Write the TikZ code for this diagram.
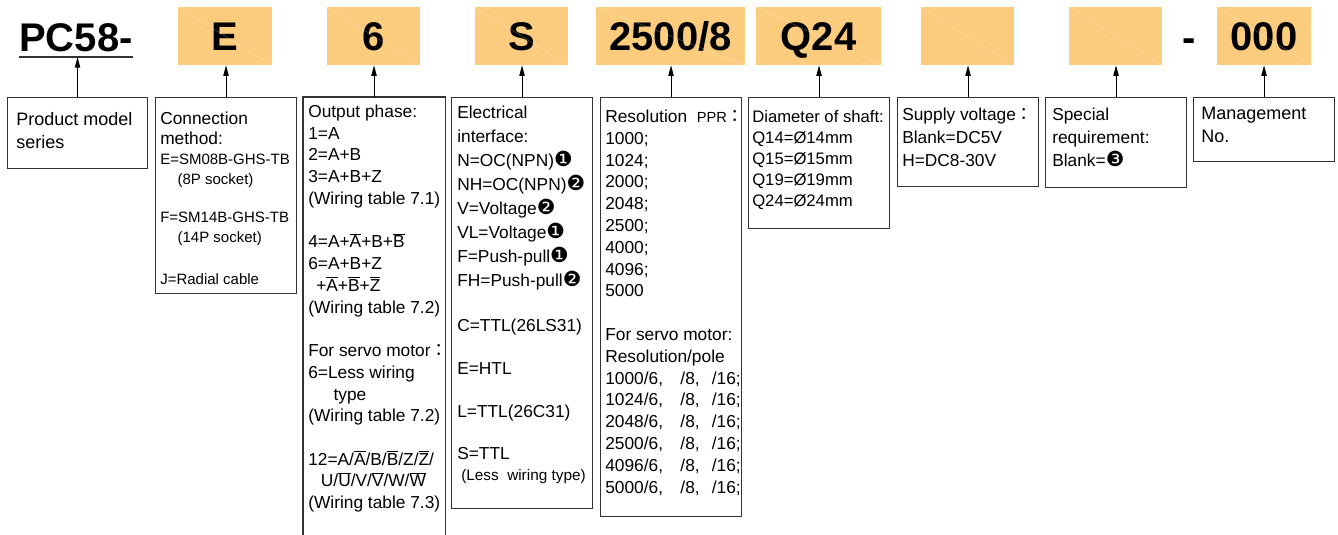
\documentclass[tikz,border=0pt]{standalone}
\usepackage{fontspec}
\setmainfont{Liberation Sans}
\newfontfamily\dingfont[Scale=1.2]{DejaVu Sans}
\newfontfamily\cjkfont{Noto Sans CJK TC}
\usepackage{xcolor}
\usetikzlibrary{arrows.meta,calc}
\definecolor{codefill}{HTML}{FBCC7E}
\newcommand{\ovl}[1]{\ensuremath{\overline{\mbox{#1}}}}
\newcommand{\fcolon}{{\cjkfont ：}}
\newcommand{\smtxt}{\fontsize{11.25}{13}\selectfont}
\newcommand{\cOne}{{\dingfont ❶}}
\newcommand{\cTwo}{{\dingfont ❷}}
\newcommand{\cThree}{{\dingfont ❸}}

\begin{document}
\begin{tikzpicture}[x=0.75pt,y=-0.75pt,
  head/.style={fill=codefill,inner sep=0pt,minimum height=43.5pt,
    font=\fontsize{30}{36}\selectfont\bfseries,text height=21.5pt,text depth=0pt},
  big/.style={inner sep=0pt,anchor=base,font=\fontsize{30}{36}\selectfont\bfseries},
  desc/.style={draw=black!80,line width=0.8pt,anchor=north west,inner sep=0pt,minimum width=105.75pt},
  txt/.style={anchor=north west,inner sep=0pt,align=left,font=\fontsize{13}{16.3}\selectfont,
    execute at begin node=\rule{0pt}{10pt}},
  ar/.style={-{Triangle[length=8pt,width=4pt]},line width=0.8pt},
  faint/.style={draw=white,opacity=0.35,line width=0.3pt}]
\useasboundingbox (0,0) rectangle (1338,535);

% code line
\node[big] (pc) at (76,52) {PC58-};
\node[head,minimum width=70.5pt] (hConn) at (225,36) {E};
\node[head,minimum width=69.75pt] (hPhase) at (373.5,36) {6};
\node[head,minimum width=69.75pt] (hElec) at (521.5,36) {S};
\node[head,minimum width=111.75pt] (hRes) at (670.5,36) {2500/8};
\node[head,minimum width=93.75pt] (hShaft) at (818.5,36) {Q24};
\node[head,minimum width=69.75pt] (hVolt) at (967.5,36) {};
\node[head,minimum width=69.75pt] (hSpec) at (1115.5,36) {};
\node[big] (dash) at (1189,52) {-};
\node[head,minimum width=70.5pt] (hMgmt) at (1264,36) {000};
\foreach \h in {hConn,hPhase,hElec,hRes,hShaft,hVolt,hSpec,hMgmt}
  \draw[faint] (\h.north west) -- (\h.south east);
\coordinate (ul) at ($(pc.base)+(0,5)$);
\draw[black!80,line width=0.8pt] (pc.base west |- ul) -- (pc.base east |- ul);

% description boxes
\node[desc,minimum width=105pt,minimum height=53.25pt] (prod) at (7,97) {};
\node[desc,minimum height=147pt] (conn) at (155,97) {};
\node[desc,draw=none,minimum height=330pt] (phase) at (303,97) {};
\draw[black!80,line width=0.8pt] (phase.south west) |- (phase.north east) -- (phase.south east);
\node[desc,minimum height=308.25pt] (elec) at (451,97) {};
\node[desc,minimum height=314.25pt] (res) at (600,97) {};
\node[desc,minimum height=98.25pt] (shaft) at (748,97) {};
\node[desc,minimum height=66.75pt] (volt) at (897,97) {};
\node[desc,minimum height=67.5pt] (spec) at (1045,97) {};
\node[desc,minimum height=48pt] (mgmt) at (1193,97) {};

\node[txt,font=\fontsize{13.5}{17.25}\selectfont] (prodT) at (16,112) {Product model\\series};
\node[txt,font=\fontsize{13}{15}\selectfont] (connT) at (160,111.7) {Connection\\method:\\
  {\smtxt E=SM08B-GHS-TB}\\
  \hspace*{13pt}{\smtxt (8P socket)}\\[13.5pt]
  {\smtxt F=SM14B-GHS-TB}\\
  \hspace*{13pt}{\smtxt (14P socket)}\\[16.5pt]
  {\smtxt J=Radial cable}};
\node[txt] (phaseT) at (308,104.7) {Output phase:\\1=A\\2=A+B\\3=A+B+Z\\(Wiring table 7.1)\\[16.3pt]
  4=A+\ovl{A}+B+\ovl{B}\\6=A+B+Z\\\hspace*{6pt}+\ovl{A}+\ovl{B}+\ovl{Z}\\(Wiring table 7.2)\\[16.3pt]
  For servo motor\fcolon\\6=Less wiring\\\hspace*{19pt}type\\(Wiring table 7.2)\\[16.3pt]
  12=A/\ovl{A}/B/\ovl{B}/Z/\ovl{Z}/\\\hspace*{9.5pt}U/\ovl{U}/V/\ovl{V}/W/\ovl{W}\\(Wiring table 7.3)};
\node[txt,font=\fontsize{13}{18}\selectfont] (elecT) at (457,105.7) {Electrical\\interface:\\
  N=OC(NPN)\cOne\\NH=OC(NPN)\cTwo\\V=Voltage\cTwo\\VL=Voltage\cOne\\F=Push-pull\cOne\\FH=Push-pull\cTwo\\[16pt]
  C=TTL(26LS31)\\[14pt]E=HTL\\[14pt]L=TTL(26C31)\\[14pt]S=TTL\\[-2.5pt]
  \hspace*{3pt}{\fontsize{11.5}{13}\selectfont (Less\ \ wiring type)}};
\node[txt,font=\fontsize{13}{16.35}\selectfont] (resT) at (605,109.7) {Resolution\ \ {\fontsize{11}{12}\selectfont PPR}\fcolon\\
  1000;\\1024;\\2000;\\2048;\\2500;\\4000;\\4096;\\5000\\[16.35pt]
  For servo motor:\\Resolution/pole\\
  1000/6,\hspace{1em}/8,\hspace{0.7em}/16;\\1024/6,\hspace{1em}/8,\hspace{0.7em}/16;\\
  2048/6,\hspace{1em}/8,\hspace{0.7em}/16;\\2500/6,\hspace{1em}/8,\hspace{0.7em}/16;\\
  4096/6,\hspace{1em}/8,\hspace{0.7em}/16;\\5000/6,\hspace{1em}/8,\hspace{0.7em}/16;};
\node[txt,font=\fontsize{12.5}{15.75}\selectfont] (shaftT) at (752,109.7) {Diameter of shaft:\\Q14=Ø14mm\\Q15=Ø15mm\\Q19=Ø19mm\\Q24=Ø24mm};
\node[txt,font=\fontsize{13}{17.25}\selectfont] (voltT) at (902,107.7) {Supply voltage\fcolon\\Blank=DC5V\\H=DC8-30V};
\node[txt,font=\fontsize{13}{17.25}\selectfont] (specT) at (1052,107.7) {Special\\requirement:\\Blank=\cThree};
\node[txt,font=\fontsize{13.5}{17.25}\selectfont] (mgmtT) at (1201,106.7) {Management\\No.};

% arrows up to the code line
\draw[ar] (prod.north) -- (prod.north |- ul);
\foreach \a/\b in {conn/hConn,phase/hPhase,elec/hElec,res/hRes,shaft/hShaft,volt/hVolt,spec/hSpec,mgmt/hMgmt}
  \draw[ar] (\a.north) -- (\a.north |- \b.south);
\end{tikzpicture}
\end{document}
